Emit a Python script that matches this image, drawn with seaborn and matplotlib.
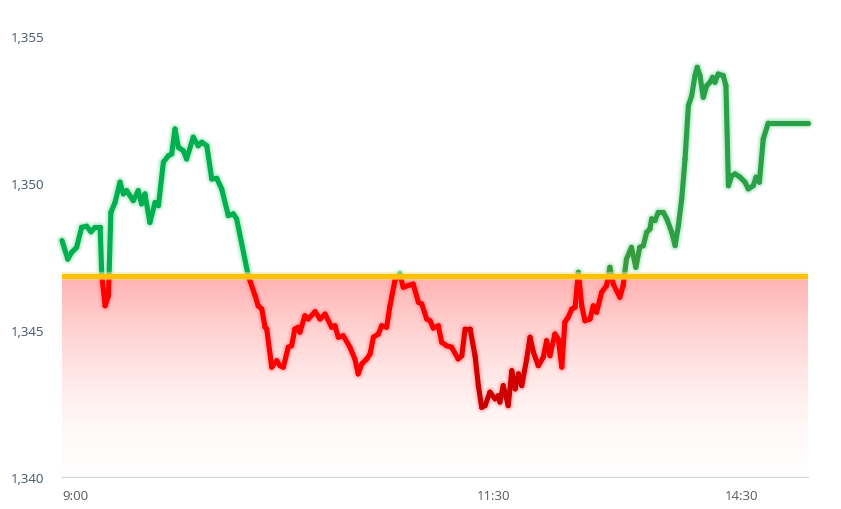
import numpy as np
import pandas as pd
import seaborn as sns
import matplotlib
matplotlib.use("Agg")
import matplotlib.pyplot as plt
from matplotlib.collections import LineCollection
from matplotlib.patches import Rectangle
from matplotlib.colors import to_rgb

# ---------------- data ----------------
minutes = [0, 2.1, 3.5, 5.3, 7.1, 8.9, 10.5, 11.9, 13.8, 14.4, 15.6, 16.8, 17.7, 19.2, 21.0,
           22.2, 23.4, 25.8, 27.6, 28.8, 30.0, 31.8, 33.7, 34.9, 36.7, 38.5, 39.7, 40.9, 42.1,
           43.9, 45.1, 47.5, 49.3, 50.6, 52.4, 54.2, 56.0, 57.8, 60.2, 62.0, 63.2, 67.4, 69.9,
           71.0, 72.3, 73.5, 74.1, 75.9, 77.7, 78.9, 80.1, 81.9, 83.1, 84.3, 85.5, 86.1, 87.9,
           89.1, 91.6, 93.4, 95.2, 97.6, 98.8, 100.0, 101.8, 104.2, 106.0, 107.2, 108.5, 110.3,
           111.5, 112.7, 114.5, 115.7, 117.5, 118.7, 120.5, 122.3, 123.5, 125.3, 127.1, 129.0,
           130.2, 132.0, 133.2, 134.4, 136.2, 137.4, 139.2, 141.0, 143.4, 144.7, 145.9, 147.7,
           149.5, 150.7, 151.9, 153.1, 154.9, 156.7, 157.9, 158.5, 159.7, 161.5, 162.8, 164.0,
           165.2, 166.4, 168.2, 169.4, 170.6, 172.4, 174.2, 175.4, 176.6, 178.4, 179.6, 180.9,
           182.0, 183.2, 184.5, 185.7, 186.9, 188.1, 189.3, 191.1, 192.3, 193.5, 195.3, 197.1,
           198.3, 199.5, 201.9, 203.1, 204.3, 206.1, 207.7, 209.1, 210.4, 211.6, 212.8, 213.4,
           214.6, 215.8, 217.6, 218.9, 220.7, 221.9, 223.1, 224.3, 225.5, 226.7, 227.9, 229.1,
           229.9, 230.9, 232.1, 233.3, 234.5, 235.5, 236.3, 237.5, 239.3, 240.3, 241.2, 242.4,
           243.6, 245.4, 247.2, 248.4, 250.2, 251.2, 252.4, 253.8, 255.6, 270.0]
price = [1348.05, 1347.42, 1347.65, 1347.82, 1348.50, 1348.54, 1348.35, 1348.50, 1348.50, 1346.86,
         1345.83, 1346.17, 1349.01, 1349.35, 1350.04, 1349.64, 1349.75, 1349.41, 1349.75, 1349.30,
         1349.64, 1348.67, 1349.35, 1349.24, 1350.72, 1350.94, 1351.00, 1351.85, 1351.23, 1351.11,
         1350.83, 1351.57, 1351.28, 1351.40, 1351.28, 1350.15, 1350.17, 1349.81, 1348.90, 1348.96,
         1348.79, 1346.86, 1346.17, 1345.83, 1345.72, 1345.10, 1345.04, 1343.74, 1343.96, 1343.79,
         1343.74, 1344.42, 1344.47, 1345.04, 1345.10, 1344.93, 1345.49, 1345.38, 1345.63, 1345.38,
         1345.55, 1345.10, 1345.15, 1344.76, 1344.81, 1344.42, 1344.02, 1343.51, 1343.85, 1344.02,
         1344.19, 1344.76, 1344.87, 1345.15, 1345.10, 1345.83, 1346.69, 1346.91, 1346.46, 1346.52,
         1346.57, 1345.95, 1345.89, 1345.38, 1345.32, 1345.07, 1345.15, 1344.59, 1344.47, 1344.42,
         1344.02, 1344.13, 1345.04, 1345.04, 1344.13, 1343.11, 1342.37, 1342.43, 1342.89, 1342.66,
         1342.77, 1342.55, 1343.11, 1342.43, 1343.62, 1343.00, 1343.51, 1343.11, 1344.02, 1344.76,
         1344.25, 1343.79, 1344.08, 1344.64, 1344.13, 1344.87, 1344.70, 1343.74, 1345.27, 1345.44,
         1345.72, 1345.78, 1346.97, 1345.83, 1345.32, 1345.38, 1345.83, 1345.61, 1346.29, 1346.52,
         1347.14, 1346.57, 1346.12, 1346.52, 1347.42, 1347.82, 1347.14, 1347.82, 1347.88, 1348.33,
         1348.45, 1348.79, 1348.73, 1349.01, 1349.01, 1348.79, 1348.33, 1347.88, 1348.56, 1349.47,
         1350.83, 1352.64, 1352.98, 1353.67, 1353.95, 1353.67, 1352.93, 1353.32, 1353.44, 1353.61,
         1353.44, 1353.72, 1353.67, 1353.32, 1349.92, 1350.26, 1350.32, 1350.21, 1350.04, 1349.81,
         1349.92, 1350.21, 1350.04, 1351.51, 1352.05, 1352.05]
prev_close = 1346.83
session_minutes = 270
x_tick_pos = [0, 150, 240]
x_tick_labels = ["9:00", "11:30", "14:30"]
y_ticks = [1340, 1345, 1350, 1355]
y_tick_labels = ["1,340", "1,345", "1,350", "1,355"]

# colour stops along the time axis
green_stops_x = [0, 130, 200, 226, 270]
green_stops_c = ["#00b050", "#00b050", "#3c9a3a", "#2aa048", "#2aa048"]
red_stops_x = [0, 140, 152, 165, 180, 270]
red_stops_c = ["#ff0000", "#ff0000", "#c80000", "#d00000", "#ff0000", "#ff0000"]

df = pd.DataFrame({"minute": minutes, "price": price})

# ---------------- figure ----------------
sns.set_theme(style="white")
plt.rcParams["font.family"] = ["Open Sans", "DejaVu Sans"]

W, H = 841, 510
fig = plt.figure(figsize=(W / 100, H / 100), dpi=100)
fig.patch.set_facecolor("white")
ax = fig.add_axes([62 / W, 1 - 478 / H, (808 - 62) / W, (478 - 37.5) / H])
ax.set_xlim(0, session_minutes)
ax.set_ylim(y_ticks[0], y_ticks[-1])

# gradient fill below the previous close
t = np.linspace(0, 1, 256)
alpha = 0.30 * t ** 1.8 + 0.01
img = np.zeros((256, 1, 4))
img[..., 0] = 1.0
img[..., 3] = alpha[:, None]
ax.imshow(img, extent=[0, session_minutes, y_ticks[0], prev_close], origin="lower",
          aspect="auto", interpolation="bilinear", zorder=1)

above = Rectangle((-50, prev_close), 400, 50, transform=ax.transData)
below = Rectangle((-50, prev_close - 50), 400, 50, transform=ax.transData)

# glow layers
for clip, gcol in ((above, "#7fd89f"), (below, "#ff8080")):
    for lw, a in ((12, 0.10), (10, 0.14), (8, 0.22)):
        sns.lineplot(data=df, x="minute", y="price", color=gcol, linewidth=lw * 0.72,
                     alpha=a, sort=False, estimator=None, ax=ax, zorder=2)
        ln = ax.lines[-1]
        ln.set_clip_path(clip)
        ln.set_solid_capstyle("round")
        ln.set_solid_joinstyle("round")


def stop_colors(xs, sx, sc):
    rgb = np.array([to_rgb(c) for c in sc])
    return np.column_stack([np.interp(xs, sx, rgb[:, k]) for k in range(3)])


x = np.asarray(minutes)
y = np.asarray(price)
pts = np.column_stack([x, y])
segs = np.stack([pts[:-1], pts[1:]], axis=1)
mids = (x[:-1] + x[1:]) / 2
for clip, sx, sc in ((above, green_stops_x, green_stops_c), (below, red_stops_x, red_stops_c)):
    lc = LineCollection(segs, colors=stop_colors(mids, sx, sc), linewidths=3.7,
                        capstyle="round", joinstyle="round", zorder=3)
    ax.add_collection(lc)
    lc.set_clip_path(clip)

# previous close reference line
ax.plot([68, 200], [prev_close - 0.07, prev_close - 0.07], color="#3c9a3a", lw=1.2, zorder=4)
ax.axhline(prev_close, color="#ffe38a", lw=6, alpha=0.5, zorder=4)
ax.axhline(prev_close, color="#ffc000", lw=3.6, zorder=5)

# axes styling
for s in ("left", "right", "top"):
    ax.spines[s].set_visible(False)
ax.spines["bottom"].set_color("#d9d9d9")
ax.spines["bottom"].set_linewidth(1)
ax.spines["bottom"].set_zorder(6)

ax.set_xticks(x_tick_pos, x_tick_labels)
for lab in ax.get_xticklabels():
    lab.set_horizontalalignment("left")
ax.set_yticks(y_ticks, y_tick_labels)
ax.tick_params(axis="x", length=0, pad=9, labelsize=9.5, labelcolor="#595959")
ax.tick_params(axis="y", length=0, pad=13, labelsize=9.5, labelcolor="#44546a")
ax.set_xlabel("")
ax.set_ylabel("")
ax.grid(False)

fig.savefig("out.png", dpi=100, facecolor="white")
